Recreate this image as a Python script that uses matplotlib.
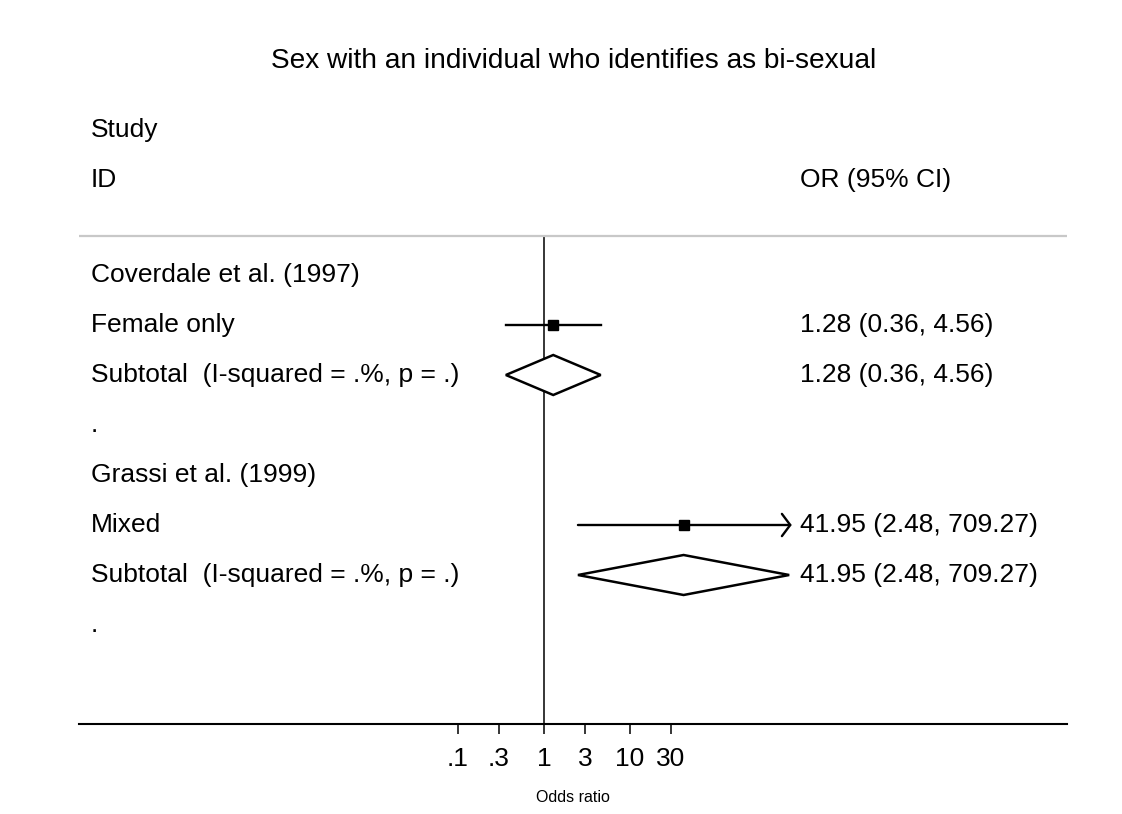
import numpy as np
import matplotlib
matplotlib.use('Agg')
import matplotlib.pyplot as plt
from matplotlib.patches import Polygon

plt.rcParams['font.family'] = ['Liberation Sans', 'DejaVu Sans']

# rows of the forest plot
labels = ["Coverdale et al. (1997)", "Female only", "Subtotal  (I-squared = .%, p = .)", ".",
          "Grassi et al. (1999)", "Mixed", "Subtotal  (I-squared = .%, p = .)", "."]
kinds = ["group", "study", "subtotal", "blank", "group", "study", "subtotal", "blank"]
est = [np.nan, 1.28, 1.28, np.nan, np.nan, 41.95, 41.95, np.nan]
lo = [np.nan, 0.36, 0.36, np.nan, np.nan, 2.48, 2.48, np.nan]
hi = [np.nan, 4.56, 4.56, np.nan, np.nan, 709.27, 709.27, np.nan]
ci_text = ["", "1.28 (0.36, 4.56)", "1.28 (0.36, 4.56)", "",
           "", "41.95 (2.48, 709.27)", "41.95 (2.48, 709.27)", ""]
arrow_right = [False, False, False, False, False, True, False, False]

ticks = [0.1, 0.3, 1, 3, 10, 30]
tick_labels = [".1", ".3", "1", "3", "10", "30"]

title = "Sex with an individual who identifies as bi-sexual"
fs = 19

fig = plt.figure(figsize=(11.22, 8.14), dpi=100)
ax = fig.add_axes([79/1122, 1 - 724/814, 988/1122, 624/814])
ax.set_xscale('log')
ax.set_xlim(10**-5.407, 10**6.081)
ax.set_ylim(9.98, -2.5)

rows = np.arange(1, len(labels) + 1)
top_line = 0.22
ytr = ax.get_yaxis_transform()

# header
ax.text(0.012, -1.9, "Study", transform=ytr, fontsize=fs, va='center', ha='left')
ax.text(0.012, -0.9, "ID", transform=ytr, fontsize=fs, va='center', ha='left')
ax.text(0.7298, -0.9, "OR (95% CI)", transform=ytr, fontsize=fs, va='center', ha='left')

ax.axhline(top_line, color='#c8c8c8', lw=1.6)
ax.plot([1, 1], [top_line, 9.98], color='black', lw=1.1, zorder=1)

for r, lab, k, e, l, h, t, arr in zip(rows, labels, kinds, est, lo, hi, ci_text, arrow_right):
    ax.text(0.012, r, lab, transform=ytr, fontsize=fs, va='center', ha='left')
    if t:
        ax.text(0.7298, r, t, transform=ytr, fontsize=fs, va='center', ha='left')
    if k == "study":
        if arr:
            ax.annotate('', xy=(h * 1.07, r), xytext=(l, r),
                        arrowprops=dict(arrowstyle='->,head_length=0.6,head_width=0.8',
                                        lw=1.7, color='black', mutation_scale=10,
                                        shrinkA=0, shrinkB=0), zorder=3)
        else:
            ax.plot([l, h], [r, r], color='black', lw=1.7, zorder=3)
        ax.plot([e], [r], marker='s', ms=7.5, color='black', zorder=4)
    elif k == "subtotal":
        d = Polygon([[l, r], [e, r - 0.4], [h, r], [e, r + 0.4]], closed=True,
                    facecolor='white', edgecolor='black', lw=1.8, zorder=3)
        ax.add_patch(d)

for s in ['top', 'left', 'right']:
    ax.spines[s].set_visible(False)
ax.spines['bottom'].set_linewidth(1.5)
ax.set_yticks([])
ax.set_xticks(ticks)
ax.set_xticklabels(tick_labels, fontsize=fs)
ax.xaxis.set_minor_locator(matplotlib.ticker.NullLocator())
ax.tick_params(axis='x', direction='out', length=7.2, width=1.1, pad=9)
ax.set_xlabel("Odds ratio", fontsize=11.5, labelpad=14)

fig.text(574/1122, 1 - 61/814, title, fontsize=20.2, ha='center', va='center')

fig.savefig('out.png', dpi=100)
